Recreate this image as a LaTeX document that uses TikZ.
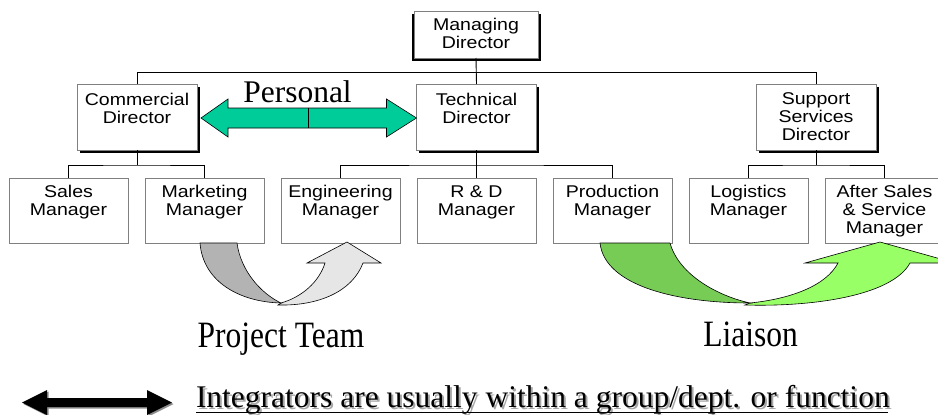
\documentclass[tikz,border=0pt]{standalone}
\usepackage{fontspec}
\setmainfont{Liberation Serif}
\newfontfamily\boxfont[FakeStretch=1.15]{Liberation Sans}
\usetikzlibrary{calc,shadows}
\definecolor{personalgreen}{HTML}{00CC99}
\definecolor{ptdark}{HTML}{B3B3B3}
\definecolor{ptlight}{HTML}{E6E6E6}
\definecolor{lidark}{HTML}{77CC55}
\definecolor{lilight}{HTML}{99FF66}
\newcommand\boxlines[2]{\parbox[c][#1pt][t]{118pt}{\centering #2}}
\newcommand\tallword[1]{\scalebox{1}[1.18]{#1}}
% text with a soft grey shadow set behind it
\newcommand\shadowed[1]{\rlap{\kern2pt\raisebox{-2pt}{\textcolor{black!35}{#1}}}#1}
\tikzset{
  every node/.style={inner sep=0pt, outer sep=0pt},
  boxtext/.style={font=\boxfont\fontsize{17}{18}\selectfont},
  mgrbox/.style={boxtext, draw=black!50, fill=white, minimum width=119, minimum height=65},
  dirbox/.style={boxtext, draw=black!50, fill=white, minimum width=120, minimum height=66,
    drop shadow={shadow xshift=2.5pt, shadow yshift=-2.5pt, fill=black, opacity=1}},
  topbox/.style={boxtext, draw=black!50, fill=white, minimum width=124, minimum height=47,
    drop shadow={shadow xshift=2.5pt, shadow yshift=-2.5pt, fill=black, opacity=1},
    drop shadow={shadow xshift=-2.5pt, shadow yshift=-2.5pt, fill=black, opacity=1}},
  orgline/.style={draw=black, line width=0.9pt},
  bigtext/.style={font=\fontsize{31.5}{36}\selectfont, anchor=base},
}
\begin{document}
\begin{tikzpicture}[x=1pt, y=-1pt]
\useasboundingbox[fill=white] (0,0) rectangle (938,415);

% managing director and the three directors
\node[topbox] (md) at (476,34.5) {\boxlines{33}{Managing\\Director}};
\node[dirbox] (cd) at (137,117) {\boxlines{48}{Commercial\\Director}};
\node[dirbox] (td) at (476.5,117) {\boxlines{48}{Technical\\Director}};
\node[dirbox] (sd) at (816,117) {\boxlines{48}{Support\\Services\\Director}};

% managers
\node[mgrbox] (sales) at (68.5,210.5) {\boxlines{50}{Sales\\Manager}};
\node[mgrbox] (mkt)   at (204.5,210.5) {\boxlines{50}{Marketing\\Manager}};
\node[mgrbox] (eng)   at (340.5,210.5) {\boxlines{50}{Engineering\\Manager}};
\node[mgrbox] (rd)    at (476.5,210.5) {\boxlines{50}{R \& D\\Manager}};
\node[mgrbox] (prod)  at (612.5,210.5) {\boxlines{50}{Production\\Manager}};
\node[mgrbox] (log)   at (748.5,210.5) {\boxlines{50}{Logistics\\Manager}};
\node[mgrbox] (as)    at (884.5,210.5) {\boxlines{50}{After Sales\\\& Service\\Manager}};

% reporting lines
\draw[orgline] (md.south) -- (td.north);
\draw[orgline] (cd.north) -- ++(0,-12) -| (sd.north);
\draw[orgline] (cd.south) -- ++(0,15) coordinate (cdj);
\draw[orgline] (sales.north) |- (cdj) -| (mkt.north);
\draw[orgline] (td.south) -- (rd.north);
\draw[orgline] (eng.north) |- ($(td.south)+(0,15)$) -| (prod.north);
\draw[orgline] (sd.south) -- ++(0,15) coordinate (sdj);
\draw[orgline] (log.north) |- (sdj) -| (as.north);

% personal link between the commercial and technical directors
\coordinate (pl) at ($(cd.east)+(4,1)$);
\coordinate (pr) at ($(td.west)+(0,1)$);
\filldraw[fill=personalgreen, draw=black, line width=0.6pt]
  (pl) -- ++(27,-19) -- ++(0,9) -- ($(pr)+(-30,-10)$) -- ++(0,-9) -- (pr)
  -- ++(-30,19) -- ++(0,-9) -- ($(pl)+(27,10)$) -- ++(0,9) -- cycle;
\draw[line width=0.6pt] ($(pl)!0.5!(pr)+(0,-10)$) -- ++(0,20);
\node[bigtext] (personal) at (297.5,102) {Personal};

% project team arrow from marketing to engineering
\filldraw[fill=ptlight, draw=black, line width=0.6pt]
  (281,303) .. controls (302,297) and (319,282) .. (325,263)
  -- (307,263) -- (347,242) -- (381,263) -- (363,263)
  .. controls (352,292) and (318,306) .. (278,305) -- cycle;
\filldraw[fill=ptdark, draw=black, line width=0.6pt]
  (200,243) .. controls (203,282) and (240,302) .. (281,303)
  .. controls (262,294) and (241,272) .. (237,243) -- cycle;
\node[bigtext] (pteam) at (281,347) {\tallword{Project Team}};

% liaison arrow from production to after sales
\filldraw[fill=lilight, draw=black, line width=0.6pt]
  (750,303) .. controls (790,299) and (826,286) .. (838,263)
  -- (805,263) -- (880,242) -- (955,263) -- (910,263)
  .. controls (892,296) and (812,307) .. (745,305) -- cycle;
\filldraw[fill=lidark, draw=black, line width=0.6pt]
  (600,243) .. controls (605,287) and (680,303) .. (750,303)
  .. controls (718,296) and (679,275) .. (670,243) -- cycle;
\node[bigtext] (liaison) at (750.5,346) {\tallword{Liaison}};

% legend
\coordinate (kl) at (22,402.5);
\coordinate (kr) at (172,402.5);
\fill[black!45] ($(kl)+(1.5,1.5)$) -- ++(25,-12.5) -- ++(0,8) -- ($(kr)+(-23.5,-3)$) -- ++(0,-8)
  -- ($(kr)+(1.5,1.5)$) -- ++(-25,12.5) -- ++(0,-8) -- ($(kl)+(26.5,6)$) -- ++(0,8) -- cycle;
\fill[black] (kl) -- ++(25,-12.5) -- ++(0,8) -- ($(kr)+(-25,-4.5)$) -- ++(0,-8)
  -- (kr) -- ++(-25,12.5) -- ++(0,-8) -- ($(kl)+(25,4.5)$) -- ++(0,8) -- cycle;
\node[bigtext, anchor=base west] (legend) at (196,407)
  {\shadowed{Integrators are usually within a group/dept. or function}};
\draw[line width=1.3pt] ($(legend.base west)+(0,5.5)$) -- ($(legend.base east)+(-2,5.5)$);
\end{tikzpicture}
\end{document}
